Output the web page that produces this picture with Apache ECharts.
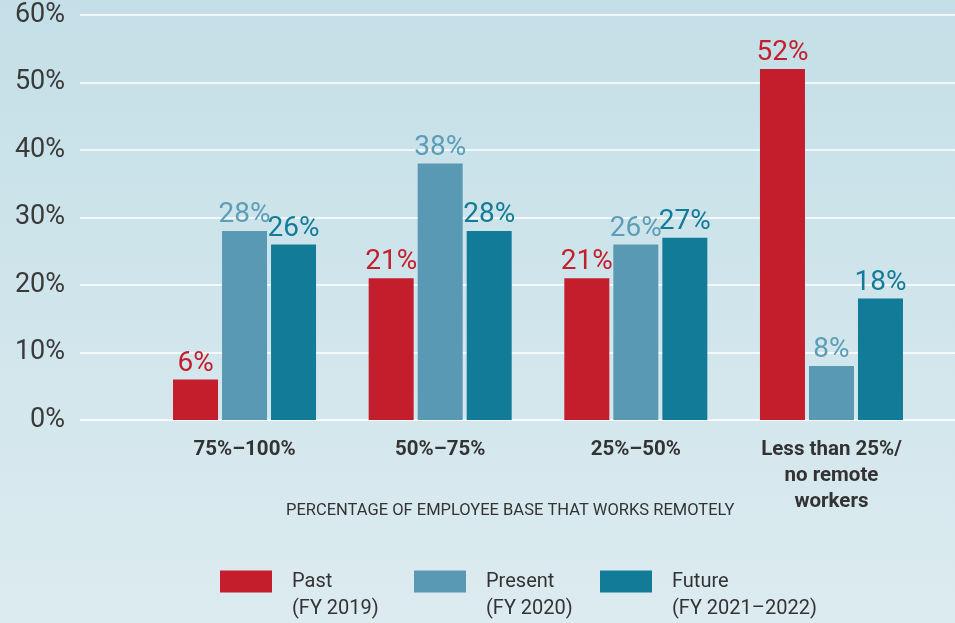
<!DOCTYPE html>
<html>
<head>
<meta charset="utf-8">
<script src="https://cdn.jsdelivr.net/npm/echarts@6/dist/echarts.min.js"></script>
<style>
html,body{margin:0;padding:0;}
#chart{width:955px;height:623px;}
</style>
</head>
<body>
<div id="chart"></div>
<script>
const categories = ['75%–100%', '50%–75%', '25%–50%', 'Less than 25%/\nno remote\nworkers'];
const seriesNames = ['Past\n(FY 2019)', 'Present\n(FY 2020)', 'Future\n(FY 2021–2022)'];
const pastValues = [6, 21, 21, 52];
const presentValues = [28, 38, 26, 8];
const futureValues = [26, 28, 27, 18];
const yTicks = [0, 10, 20, 30, 40, 50, 60];
const axisTitle = 'PERCENTAGE OF EMPLOYEE BASE THAT WORKS REMOTELY';

const FONT = "Roboto, sans-serif";
const colors = ['#c41e2c', '#5a99b3', '#117b98'];
const labelColors = ['#c41e2c', '#5d9db7', '#137b98'];

const chart = echarts.init(document.getElementById('chart'), null, {renderer: 'canvas'});

function barSeries(i, data) {
  return {
    name: seriesNames[i],
    type: 'bar',
    xAxisIndex: 1,
    yAxisIndex: 1,
    data: data,
    barWidth: 45,
    barGap: '8.9%',
    itemStyle: {color: colors[i]},
    label: {
      show: true,
      position: 'top',
      distance: 2,
      formatter: '{c}%',
      color: labelColors[i],
      fontSize: 28,
      fontFamily: FONT
    }
  };
}

function legendFor(i, left) {
  return {
    data: [seriesNames[i]],
    left: left,
    top: 541,
    padding: 0,
    itemWidth: 52,
    itemHeight: 22,
    icon: 'rect',
    selectedMode: false,
    formatter: name => '\n' + name,
    textStyle: {
      fontSize: 20,
      lineHeight: 27,
      color: '#333',
      fontFamily: FONT,
      padding: [0, 0, 0, 15]
    }
  };
}

const option = {
  backgroundColor: {
    type: 'linear', x: 0, y: 0, x2: 0, y2: 1,
    colorStops: [{offset: 0, color: '#c4dfe7'}, {offset: 1, color: '#dcebf0'}]
  },
  animation: false,
  grid: [
    {left: 80, right: 0, top: 15, bottom: 203, containLabel: false},
    {left: 146.7, right: 25.7, top: 15, bottom: 203, containLabel: false}
  ],
  xAxis: [
    {type: 'value', gridIndex: 0, show: false, min: 0, max: 1},
    {
      type: 'category', gridIndex: 1, data: categories,
      axisLine: {show: false}, axisTick: {show: false},
      axisLabel: {
        margin: 17, fontSize: 20.5, fontWeight: 'bold', color: '#333',
        lineHeight: 26, fontFamily: FONT, interval: 0
      }
    }
  ],
  yAxis: [
    {
      type: 'value', gridIndex: 0, min: 0, max: 60, interval: 10,
      axisLine: {show: false}, axisTick: {show: false},
      splitLine: {lineStyle: {color: '#ffffff', width: 1.5}},
      axisLabel: {
        formatter: v => yTicks.includes(v) ? v + '%' : '',
        margin: 15, fontSize: 27, color: '#3a3a3a', fontFamily: FONT,
        verticalAlign: 'middle', padding: [7, 0, 0, 0]
      }
    },
    {
      type: 'value', gridIndex: 1, min: 0, max: 60, interval: 10, show: false,
      splitLine: {show: false}
    }
  ],
  legend: [legendFor(0, 220), legendFor(1, 414), legendFor(2, 600)],
  graphic: [{
    type: 'text', left: 286, top: 502,
    style: {text: axisTitle, fontSize: 16.5, fill: '#333', fontFamily: FONT}
  }],
  series: [barSeries(0, pastValues), barSeries(1, presentValues), barSeries(2, futureValues)]
};
chart.setOption(option);
</script>
</body>
</html>
